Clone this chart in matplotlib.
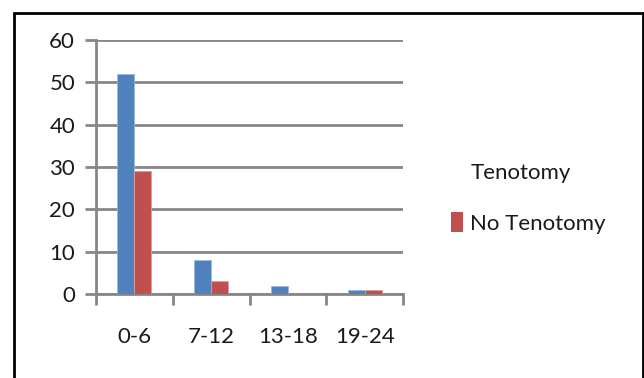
import matplotlib
matplotlib.use("Agg")
import matplotlib.pyplot as plt
from matplotlib.patches import Patch, Rectangle
import numpy as np

categories = ["0-6", "7-12", "13-18", "19-24"]
tenotomy = [52, 8, 2, 1]
no_tenotomy = [29, 3, 0, 1]
series_labels = ["Tenotomy", "No Tenotomy"]
y_ticks = [0, 10, 20, 30, 40, 50, 60]

blue = "#4F81BD"
red = "#C0504D"
grid_gray = "#868686"
text_color = "#1a1a1a"

plt.rcParams["font.family"] = ["Lato", "DejaVu Sans"]

fig = plt.figure(figsize=(6.44, 3.78), dpi=100)
ax = fig.add_axes([0.149, 0.222, 0.477, 0.672])

x = np.arange(len(categories))
w = 0.22
ax.bar(x - w / 2, tenotomy, width=w, color=blue, edgecolor="#9DB9DE", linewidth=0.6, zorder=3)
ax.bar(x + w / 2, no_tenotomy, width=w, color=red, edgecolor="#E09A98", linewidth=0.6, zorder=3)

ax.set_xlim(-0.5, len(categories) - 0.5)
ax.set_ylim(0, 60)
ax.set_yticks(y_ticks)
ax.set_yticklabels([str(v) for v in y_ticks], fontsize=16, color=text_color)
ax.yaxis.grid(True, color=grid_gray, linewidth=2, zorder=1)
ax.tick_params(axis="y", length=8, width=2, color=grid_gray, pad=7)

ax.set_xticks(x)
ax.set_xticklabels(categories, fontsize=16, color=text_color)
ax.tick_params(axis="x", which="major", length=0, pad=24)
ax.set_xticks(np.arange(-0.5, len(categories)), minor=True)
ax.tick_params(axis="x", which="minor", length=8, width=2, color=grid_gray)

for side in ["top", "right"]:
    ax.spines[side].set_visible(False)
for side in ["left", "bottom"]:
    ax.spines[side].set_color(grid_gray)
    ax.spines[side].set_linewidth(2)
ax.set_axisbelow(True)

handles = [Patch(facecolor="none", edgecolor="none"), Patch(facecolor=red, edgecolor="none")]
leg = fig.legend(handles, series_labels, loc="center left", bbox_to_anchor=(0.67, 0.477),
                 frameon=False, fontsize=16, labelspacing=1.3, handlelength=0.5,
                 handleheight=1.0, handletextpad=0.35)
for t in leg.get_texts():
    t.set_color(text_color)

fig.patches.append(Rectangle((0.0217, -0.1), 0.976, 1.0656, transform=fig.transFigure,
                             fill=False, edgecolor="black", linewidth=2))

fig.savefig("out.png", dpi=100)
